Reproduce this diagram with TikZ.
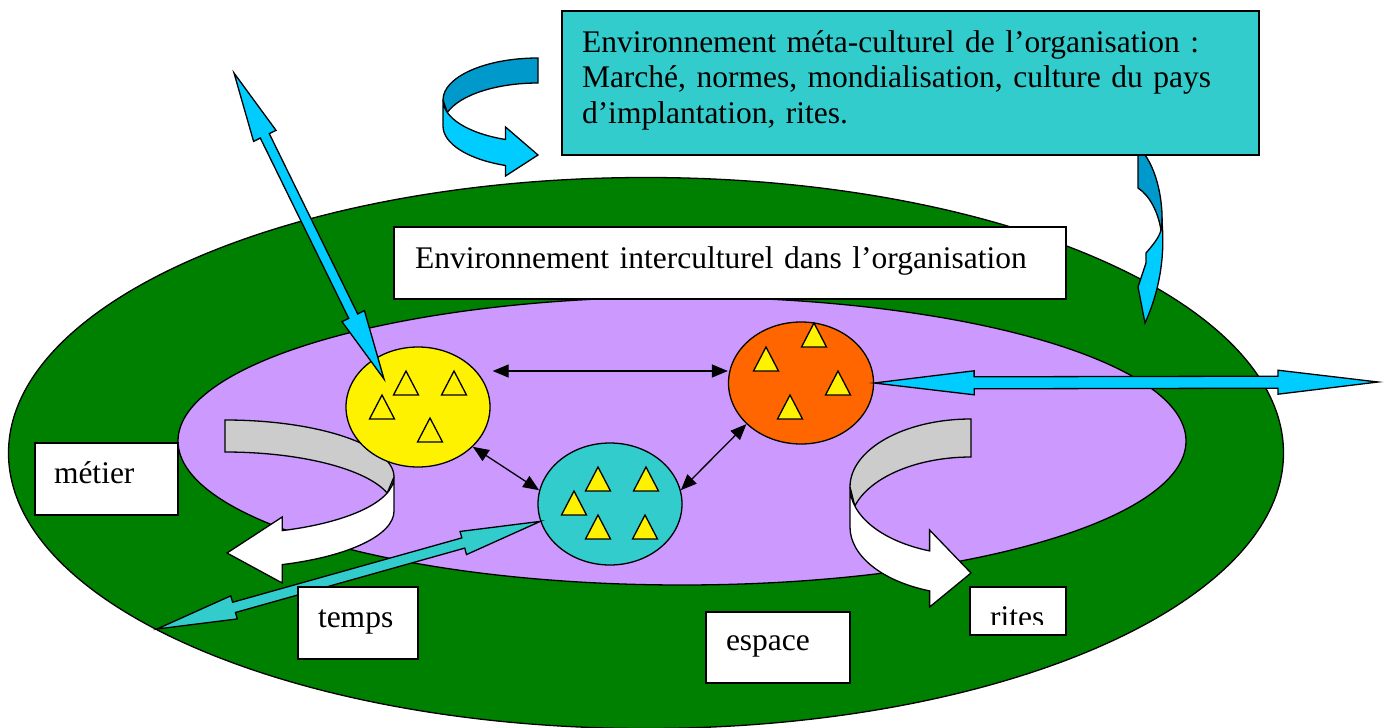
\documentclass[tikz,border=0pt]{standalone}
\usepackage{fontspec}
\setmainfont{Liberation Serif}
\usetikzlibrary{shapes.geometric,arrows.meta,calc}

\definecolor{grn}{RGB}{0,128,0}
\definecolor{lav}{RGB}{204,153,255}
\definecolor{tealc}{RGB}{51,204,204}
\definecolor{orng}{RGB}{255,102,0}
\definecolor{sky}{RGB}{0,204,255}
\definecolor{deepsky}{RGB}{0,153,204}
\definecolor{pale}{RGB}{204,204,204}

% block arrow with two heads: fill, from, to, half shaft, half head, head length
\newcommand{\dblarrow}[6]{%
  \draw[fill=#1,line width=1.3pt]
    (#2) -- ($(#2)!#6!(#3)!#5!90:(#3)$) -- ($(#2)!#6!(#3)!#4!90:(#3)$)
    -- ($(#3)!#6!(#2)!#4!-90:(#2)$) -- ($(#3)!#6!(#2)!#5!-90:(#2)$)
    -- (#3) -- ($(#3)!#6!(#2)!#5!90:(#2)$) -- ($(#3)!#6!(#2)!#4!90:(#2)$)
    -- ($(#2)!#6!(#3)!#4!-90:(#3)$) -- ($(#2)!#6!(#3)!#5!-90:(#3)$) -- cycle;}

\begin{document}
\begin{tikzpicture}[x=1pt,y=-1pt,
    blob/.style={ellipse,draw,line width=1.3pt,inner sep=0pt},
    tri/.style={draw,fill=yellow,line width=1.3pt},
    lbl/.style={draw,fill=white,line width=2pt,anchor=north west,align=left,
      inner ysep=0pt,outer sep=0pt,font=\fontsize{31.5}{35.8}\selectfont},
    link/.style={line width=1.3pt,{Triangle[length=16pt,width=13pt]}-{Triangle[length=16pt,width=13pt]}},
    ribbon/.style={draw,line width=1.3pt}]
\useasboundingbox (0,0) rectangle (1384,728);

\node[blob,fill=grn,minimum width=1275pt,minimum height=551pt] (outer) at (646,453) {};
\node[blob,fill=lav,minimum width=1008pt,minimum height=288pt] (inner) at (682,441) {};

% curved arrows, left and right
\draw[ribbon,fill=pale] (225,420) .. controls (318.3,420) and (394,445.5) .. (394,477)
  -- (387.2,493) .. controls (366.1,468.7) and (300.1,452) .. (225,452) -- cycle;
\draw[ribbon,fill=white] (394,477) .. controls (394,501) and (349,522.4) .. (282.2,530.6)
  -- (282.2,517) -- (227,553) -- (282.2,583) -- (282.2,564.6)
  .. controls (349,556.4) and (394,535) .. (394,511) -- cycle;
\draw[ribbon,fill=pale] (971,419) .. controls (904,419) and (850,449.5) .. (850,487)
  -- (854.8,506) .. controls (869.8,477) and (917.2,457) .. (971,457) -- cycle;
\draw[ribbon,fill=white] (850,487) .. controls (850,515.6) and (881.8,541.1) .. (929.6,550.9)
  -- (929.6,530) -- (971,573) -- (929.6,607) -- (929.6,590.9)
  .. controls (881.8,581.1) and (850,555.6) .. (850,527) -- cycle;

\node[blob,fill=yellow,minimum width=144pt,minimum height=120pt] (yel) at (418,407) {};
\node[blob,fill=tealc,minimum width=144pt,minimum height=122pt] (teal) at (610,504) {};
\node[blob,fill=orng,minimum width=145pt,minimum height=122pt] (ora) at (801,383) {};

\foreach \x/\y in {406/371,454/371,382/395,430/418,598/467,646/467,574/491,
    598/515,645/515,814/323,766/347,838/371,790/395}
  \draw[tri] (\x,\y) -- ++(12.5,24) -- ++(-25,0) -- cycle;

\draw[link] ([shift={(2,-36)}]yel.east) -- ([shift={(0,-12)}]ora.west);
\draw[link] (yel.-36) -- (teal.169);
\draw[link] (teal.11) -- (ora.217);

\coordinate (skyend) at (234,73);
\coordinate (yelin) at ([shift={(-34,-28)}]yel.center);
\dblarrow{sky}{skyend}{yelin}{5pt}{12.5pt}{70pt}
\coordinate (eastend) at (1378,382);
\dblarrow{sky}{ora.east}{eastend}{6pt}{12pt}{100pt}
\coordinate (swend) at (157,629);
\dblarrow{tealc}{swend}{teal.194}{5.3pt}{12pt}{80pt}

\node[lbl,text width=630pt,inner xsep=21pt,text height=41pt,text depth=31pt] (intra) at (394,227)
  {Environnement interculturel dans l’organisation};
\node[lbl,text width=105pt,inner xsep=19pt,text height=40pt,text depth=32pt] (metier) at (35,443) {métier};
\node[lbl,text width=80pt,inner xsep=20pt,text height=40pt,text depth=32pt] (temps) at (298,587) {temps};
\node[lbl,text width=104pt,inner xsep=20pt,text height=38pt,text depth=33pt] (espace) at (706,612) {espace};
\node[lbl,text width=56pt,inner xsep=20pt,text height=40.5pt,text depth=7.5pt] (rites) at (970,587) {rites};
\fill[white] ([shift={(1,-10)}]rites.south west) rectangle ([shift={(-1,-1)}]rites.south east);

% curved arrows, top
\draw[ribbon,fill=deepsky] (538,58) .. controls (485.6,58) and (443,76.8) .. (443,100)
  -- (447.3,112.5) .. controls (459.7,94.9) and (496.4,83) .. (538,83) -- cycle;
\draw[ribbon,fill=sky] (443,100) .. controls (443,117.7) and (468,133.4) .. (505.5,139.5)
  -- (505.5,127) -- (538,155) -- (505.5,176) -- (505.5,165.5)
  .. controls (468,159.4) and (443,143.7) .. (443,126) -- cycle;
\draw[ribbon,fill=deepsky] (1138,154) -- (1145,155) .. controls (1157,172) and (1163,200) .. (1162,225)
  -- (1161,230) .. controls (1158,212) and (1150,196) .. (1138,188) -- cycle;
\draw[ribbon,fill=sky] (1162,222) .. controls (1165,255) and (1160,290) .. (1145,323)
  -- (1138,287) -- (1146,263) -- (1146,253) .. controls (1152,246) and (1159,238) .. (1161,230) -- cycle;

\node[lbl,fill=tealc,line width=2.6pt,text width=657pt,inner xsep=20pt,text height=41pt,text depth=103pt]
  (meta) at (562,11) {Environnement méta-culturel de l’organisation :\\
  Marché, normes, mondialisation, culture du pays\\ d’implantation, rites.};
\end{tikzpicture}
\end{document}
